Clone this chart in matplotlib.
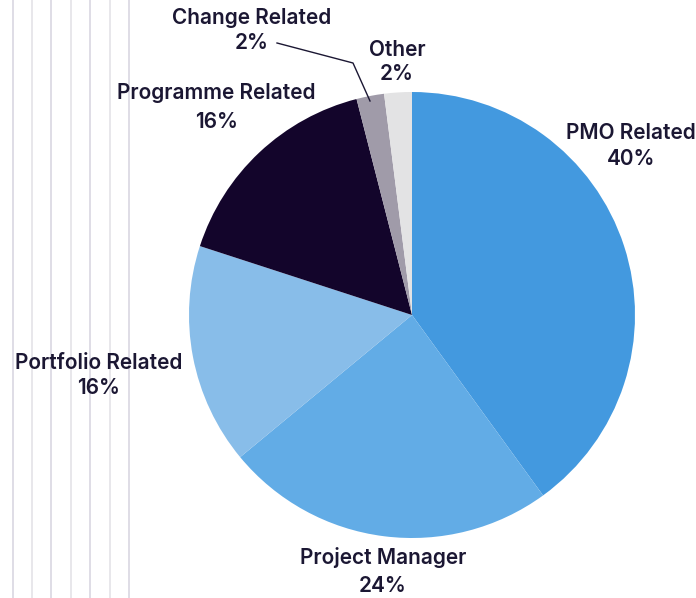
import matplotlib.pyplot as plt

# ==========================
# Data
# ==========================
labels = ["PMO Related", "Project Manager", "Portfolio Related",
          "Programme Related", "Change Related", "Other"]
shares = [40, 24, 16, 16, 2, 2]
colors = ["#4399df", "#62ace6", "#88bde9", "#13052b", "#a09ba9", "#e3e3e4"]

# label anchor points in pixel space (x, y of first line)
label_pos = [(631, 133), (383, 558), (99, 363), (216, 93), (252, 18), (397, 50)]
line_gap = [26, 28, 25, 29, 25, 24]

W, H = 696, 598
text_color = "#1b1733"

fig = plt.figure(figsize=(W / 100, H / 100), dpi=100)
ax = fig.add_axes([0, 0, 1, 1])

ax.pie(shares, colors=colors, startangle=90, counterclock=False,
       center=(412, H - 315), radius=223,
       wedgeprops=dict(linewidth=0))

ax.set_xlim(0, W)
ax.set_ylim(0, H)
ax.set_aspect("equal")
ax.axis("off")

# decorative vertical lines on the left
for i, x in enumerate([12.5, 32, 51, 70.5, 90, 109.5, 128.5]):
    ax.plot([x, x], [0, H], color="#d9d7e1" if i % 2 == 0 else "#e4e3e8",
            linewidth=1.2, zorder=0)

for lab, val, (x, y), g in zip(labels, shares, label_pos, line_gap):
    ax.text(x, H - y, lab, ha="center", va="center", fontsize=15,
            fontfamily="Inter", fontweight="semibold", color=text_color)
    ax.text(x, H - y - g, f"{val}%", ha="center", va="center", fontsize=15,
            fontfamily="Inter", fontweight="semibold", color=text_color)

# leader line for the Change Related slice
ax.plot([277, 353, 370], [H - 43, H - 63, H - 101], color=text_color,
        linewidth=1)

fig.savefig("out.png", dpi=100)
